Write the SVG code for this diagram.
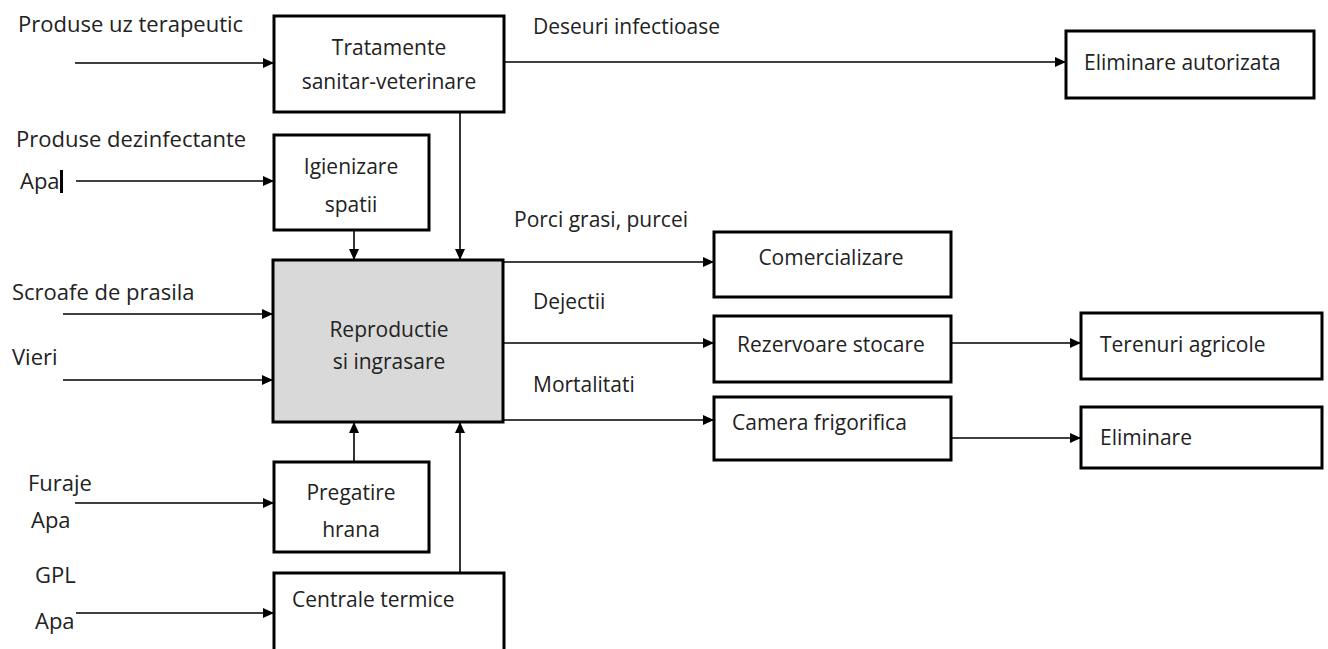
<svg xmlns="http://www.w3.org/2000/svg" width="1328" height="649" viewBox="0 0 1328 649">
<defs>
<marker id="ah" markerWidth="12" markerHeight="10" refX="11" refY="5" orient="auto" markerUnits="userSpaceOnUse">
<path d="M0,0 L11,5 L0,10 Z" fill="#000"/>
</marker>
<style>
.box{fill:#fff;stroke:#000;stroke-width:3}
.main{fill:#d9d9d9;stroke:#000;stroke-width:3}
.ln{stroke:#000;stroke-width:1.6;fill:none;marker-end:url(#ah)}
.t{font-family:"Open Sans","Liberation Sans",sans-serif;font-size:21px;fill:#222}
.tl{font-family:"Open Sans","Liberation Sans",sans-serif;font-size:22px;fill:#222}
.c{text-anchor:middle}
</style>
</defs>
<rect width="1328" height="649" fill="#fff"/>
<g id="connectors">
<line class="ln" x1="75" y1="63" x2="274" y2="63"/>
<line class="ln" x1="76" y1="181" x2="274" y2="181"/>
<line class="ln" x1="63" y1="314" x2="273" y2="314"/>
<line class="ln" x1="63" y1="380" x2="273" y2="380"/>
<line class="ln" x1="75" y1="503" x2="274" y2="503"/>
<line class="ln" x1="76" y1="613" x2="274" y2="613"/>
<line class="ln" x1="460" y1="112" x2="460" y2="260"/>
<line class="ln" x1="354" y1="230" x2="354" y2="260"/>
<line class="ln" x1="354" y1="462" x2="354" y2="422"/>
<line class="ln" x1="460" y1="573" x2="460" y2="422"/>
<line class="ln" x1="504" y1="62" x2="1066" y2="62"/>
<line class="ln" x1="503" y1="262" x2="714" y2="262"/>
<line class="ln" x1="503" y1="343" x2="714" y2="343"/>
<line class="ln" x1="503" y1="420" x2="714" y2="420"/>
<line class="ln" x1="951" y1="343" x2="1081" y2="343"/>
<line class="ln" x1="951" y1="438" x2="1081" y2="438"/>
</g>
<g id="labels">
<text class="tl" x="18" y="32">Produse uz terapeutic</text>
<text class="tl" x="16" y="147">Produse dezinfectante</text>
<text class="tl" x="20" y="189">Apa</text>
<rect x="60" y="170" width="3" height="23" fill="#000"/>
<text class="tl" x="12" y="300">Scroafe de prasila</text>
<text class="tl" x="12" y="365">Vieri</text>
<text class="tl" x="28" y="491">Furaje</text>
<text class="tl" x="31" y="528">Apa</text>
<text class="tl" x="35" y="583">GPL</text>
<text class="tl" x="35" y="629">Apa</text>
<text class="t" x="533" y="34">Deseuri infectioase</text>
<text class="t" x="514" y="227">Porci grasi, purcei</text>
<text class="t" x="533" y="309">Dejectii</text>
<text class="t" x="533" y="392">Mortalitati</text>
</g>
<g id="n-tratamente">
<rect class="box" x="274" y="16" width="230" height="96"/>
<text class="t c" x="389" y="55">Tratamente</text>
<text class="t c" x="389" y="89">sanitar-veterinare</text>
</g>
<g id="n-igienizare">
<rect class="box" x="274" y="135" width="155" height="95"/>
<text class="t c" x="351" y="174">Igienizare</text>
<text class="t c" x="351" y="212">spatii</text>
</g>
<g id="n-reproductie">
<rect class="main" x="273" y="260" width="230" height="162"/>
<text class="t c" x="389" y="337">Reproductie</text>
<text class="t c" x="389" y="369">si ingrasare</text>
</g>
<g id="n-pregatire">
<rect class="box" x="274" y="462" width="155" height="90"/>
<text class="t c" x="351" y="500">Pregatire</text>
<text class="t c" x="351" y="537">hrana</text>
</g>
<g id="n-centrale">
<rect class="box" x="274" y="573" width="230" height="90"/>
<text class="t" x="292" y="607">Centrale termice</text>
</g>
<g id="n-eliminare-autorizata">
<rect class="box" x="1066" y="31" width="248" height="67"/>
<text class="t" x="1084" y="70">Eliminare autorizata</text>
</g>
<g id="n-comercializare">
<rect class="box" x="714" y="232" width="237" height="65"/>
<text class="t c" x="831" y="265">Comercializare</text>
</g>
<g id="n-rezervoare">
<rect class="box" x="714" y="316" width="237" height="66"/>
<text class="t c" x="831" y="352">Rezervoare stocare</text>
</g>
<g id="n-terenuri">
<rect class="box" x="1081" y="313" width="241" height="66"/>
<text class="t" x="1100" y="352">Terenuri agricole</text>
</g>
<g id="n-camera">
<rect class="box" x="714" y="397" width="237" height="63"/>
<text class="t" x="732" y="430">Camera frigorifica</text>
</g>
<g id="n-eliminare">
<rect class="box" x="1081" y="407" width="241" height="61"/>
<text class="t" x="1100" y="445">Eliminare</text>
</g>
</svg>
